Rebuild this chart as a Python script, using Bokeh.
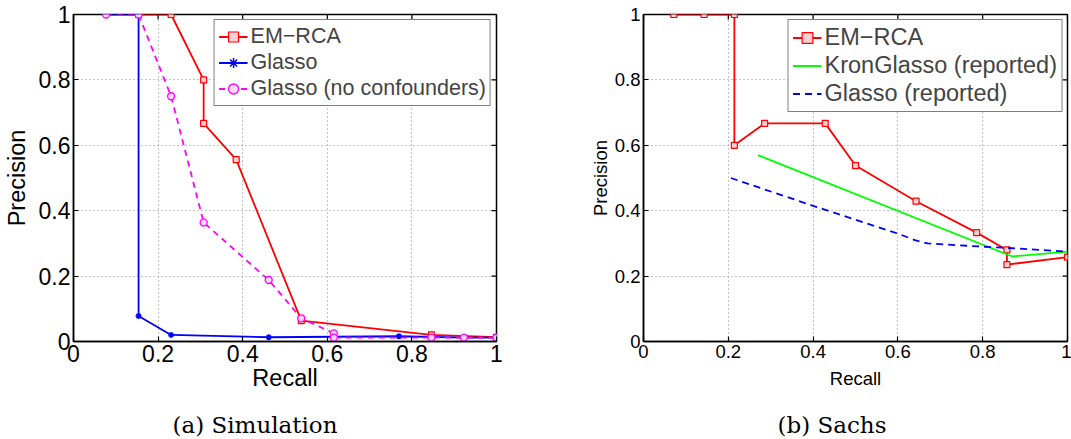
import math

from bokeh.plotting import figure
from bokeh.layouts import row, column
from bokeh.models import FixedTicker, NumeralTickFormatter, Label
from bokeh.embed import file_html
from bokeh.resources import INLINE

# ---- (a) Simulation: precision/recall curves (recall in steps of 1/13) ----
sim_em_recall = [2/13, 3/13, 4/13, 4/13, 5/13, 7/13, 11/13, 1.0]
sim_em_precision = [1.0, 1.0, 0.8, 0.667, 0.556, 0.064, 0.02, 0.013]

sim_gl_recall = [1/13, 2/13, 2/13, 3/13, 6/13, 10/13, 12/13, 1.0]
sim_gl_precision = [1.0, 1.0, 0.078, 0.02, 0.013, 0.016, 0.012, 0.012]

sim_nc_recall = [1/13, 2/13, 3/13, 4/13, 6/13, 7/13, 8/13, 8/13, 11/13, 12/13, 1.0]
sim_nc_precision = [1.0, 1.0, 0.75, 0.364, 0.188, 0.071, 0.025, 0.012, 0.012, 0.012, 0.012]

# ---- (b) Sachs: precision/recall curves (recall in steps of 1/14) ----
sachs_em_recall = [1/14, 2/14, 3/14, 3/14, 4/14, 6/14, 7/14, 9/14, 11/14, 12/14, 12/14, 1.0]
sachs_em_precision = [1.0, 1.0, 1.0, 0.6, 0.667, 0.667, 0.538, 0.429, 0.333, 0.28, 0.235, 0.258]

sachs_kron_recall = [0.27, 0.87, 1.0]
sachs_kron_precision = [0.57, 0.26, 0.275]

sachs_gl_recall = [0.206, 0.4, 0.6, 0.64, 0.67, 0.8, 0.86, 1.0]
sachs_gl_precision = [0.5, 0.415, 0.33, 0.31, 0.30, 0.29, 0.286, 0.275]

tick_values = [0, 0.2, 0.4, 0.6, 0.8, 1.0]

captions = ["(a) Simulation", "(b) Sachs"]

SANS = "Liberation Sans"
SERIF = "DejaVu Serif"
RED, BLUE, MAGENTA, GREEN = "#ff0000", "#0000ff", "#ff00ff", "#00ff00"


def make_axes(p, tick_px, label_px, xlabel_standoff, ylabel_standoff):
    for ax in (p.xaxis[0], p.yaxis[0]):
        ax.ticker = FixedTicker(ticks=tick_values)
        ax.formatter = NumeralTickFormatter(format="0.[0]")
        ax.major_tick_in = 5
        ax.major_tick_out = 0
        ax.minor_tick_line_color = None
        ax.axis_line_width = 1.5
        ax.major_tick_line_width = 1.2
        ax.major_label_text_font = SANS
        ax.major_label_text_font_size = f"{tick_px}px"
        ax.major_label_text_color = "black"
        ax.axis_label_text_font = SANS
        ax.axis_label_text_font_style = "normal"
        ax.axis_label_text_font_size = f"{label_px}px"
        ax.axis_label_text_color = "black"
    p.xaxis[0].axis_label = "Recall"
    p.yaxis[0].axis_label = "Precision"
    p.xaxis[0].major_label_standoff = 3
    p.yaxis[0].major_label_standoff = 3
    p.xaxis[0].axis_label_standoff = xlabel_standoff
    p.yaxis[0].axis_label_standoff = ylabel_standoff
    # inward tick marks on the top and right edges of the box
    # (dash markers centred on the edge; the outer half is clipped by the frame)
    edge = [1.0] * len(tick_values)
    p.scatter(edge, tick_values, marker="dash", size=10, line_color="black", line_width=1.2)
    p.scatter(tick_values, edge, marker="dash", size=10, angle=math.pi / 2,
              line_color="black", line_width=1.2)
    p.xgrid.ticker = FixedTicker(ticks=tick_values)
    p.ygrid.ticker = FixedTicker(ticks=tick_values)
    for g in (p.xgrid[0], p.ygrid[0]):
        g.grid_line_color = "#8a8a8a"
        g.grid_line_dash = "1 3"
        g.grid_line_width = 1
    p.outline_line_color = "black"
    p.outline_line_width = 1.5


def style_legend(p, font_px, label_h):
    lg = p.legend[0]
    lg.location = "top_right"
    lg.margin = 5
    lg.padding = 4
    lg.spacing = 1
    lg.label_height = label_h
    lg.glyph_height = label_h
    lg.glyph_width = 29
    lg.label_standoff = 3
    lg.label_text_font = SANS
    lg.label_text_font_size = f"{font_px}px"
    lg.border_line_color = "black"
    lg.border_line_width = 1.2
    lg.background_fill_alpha = 1.0


# ---- panel (a) ----
pa = figure(width=536, height=400, x_range=(0, 1), y_range=(0, 1),
            min_border_left=72, min_border_right=40, min_border_top=14, min_border_bottom=59,
            output_backend="svg", toolbar_location=None)
make_axes(pa, 23, 23.5, 0, 6)

pa.line(sim_em_recall, sim_em_precision, color=RED, line_width=1.8, legend_label="EM\u2212RCA")
pa.scatter(sim_em_recall, sim_em_precision, marker="square", size=6, line_color=RED,
           fill_color="#ffd0d0", line_width=1.2, legend_label="EM\u2212RCA")
pa.line(sim_gl_recall, sim_gl_precision, color=BLUE, line_width=1.8, legend_label="Glasso")
pa.scatter(sim_gl_recall, sim_gl_precision, marker="asterisk", size=6, line_color=BLUE,
           line_width=1.5, legend_label="Glasso")
pa.line(sim_nc_recall, sim_nc_precision, color=MAGENTA, line_width=1.8, line_dash="6 5",
        legend_label="Glasso (no confounders)")
pa.scatter(sim_nc_recall, sim_nc_precision, marker="circle", size=7, line_color=MAGENTA,
           fill_color="#ffd8ff", line_width=1.3, legend_label="Glasso (no confounders)")
style_legend(pa, 21.5, 25)

# ---- panel (b) ----
pb = figure(width=535, height=400, x_range=(0, 1), y_range=(0, 1),
            min_border_left=107, min_border_right=4, min_border_top=14, min_border_bottom=52,
            output_backend="svg", toolbar_location=None)
make_axes(pb, 18.5, 18.5, 7, 1)

pb.line(sachs_em_recall, sachs_em_precision, color=RED, line_width=1.8, legend_label="EM\u2212RCA")
pb.scatter(sachs_em_recall, sachs_em_precision, marker="square", size=6, line_color=RED,
           fill_color="#ffd0d0", line_width=1.2, legend_label="EM\u2212RCA")
pb.line(sachs_kron_recall, sachs_kron_precision, color=GREEN, line_width=1.8,
        legend_label="KronGlasso (reported)")
pb.line(sachs_gl_recall, sachs_gl_precision, color=BLUE, line_width=1.8, line_dash="7 5",
        legend_label="Glasso (reported)")
style_legend(pb, 23.5, 27)

# ---- caption strip under both panels ----
cap = figure(width=1071, height=39, x_range=(0, 1), y_range=(0, 1),
             min_border=0, output_backend="svg", toolbar_location=None)
cap.title.visible = False
cap.axis.visible = False
cap.grid.visible = False
cap.outline_line_color = None
for text, left_px in zip(captions, (172, 777)):
    cap.add_layout(Label(x=left_px, y=28, x_units="screen", y_units="screen", text=text,
                         text_font=SERIF, text_font_size="23px", text_color="black",
                         text_baseline="top", text_align="left"))

layout = column(row(pa, pb), cap)
open("out.html", "w").write(file_html(layout, INLINE))
